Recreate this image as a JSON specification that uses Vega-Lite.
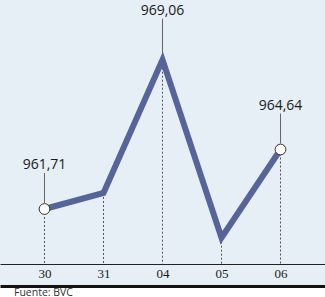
{
  "$schema": "https://vega.github.io/schema/vega-lite/v6.json",
  "width": 325,
  "height": 286,
  "autosize": {"type": "none"},
  "padding": {"left": 0, "right": 0, "top": 0, "bottom": 11},
  "background": "white",
  "config": {"view": {"fill": "#e6eef6", "stroke": null}},
  "title": {"text": "Fuente: BVC", "orient": "bottom", "anchor": "start", "fontSize": 10.5, "font": "Open Sans", "fontWeight": "normal", "color": "#333333", "offset": 2, "dx": 14},
  "datasets": {
    "serie": [
      {"dia": "30", "valor": 961.71, "label": "961,71"},
      {"dia": "31", "valor": 962.5, "label": ""},
      {"dia": "04", "valor": 969.06, "label": "969,06"},
      {"dia": "05", "valor": 960.3, "label": ""},
      {"dia": "06", "valor": 964.64, "label": "964,64"}
    ],
    "eje": [
      {"dia": "30", "nivel": 959},
      {"dia": "31", "nivel": 959},
      {"dia": "04", "nivel": 959},
      {"dia": "05", "nivel": 959},
      {"dia": "06", "nivel": 959}
    ]
  },
  "data": {"name": "serie"},
  "layer": [
    {
      "transform": [{"lookup": "dia", "from": {"data": {"name": "eje"}, "key": "dia", "fields": ["nivel"]}}],
      "mark": {"type": "rule", "color": "#555555", "strokeWidth": 1, "strokeDash": [2, 2]},
      "encoding": {
        "x": {"field": "dia", "type": "ordinal", "sort": null},
        "y": {"field": "valor", "type": "quantitative"},
        "y2": {"field": "nivel"}
      }
    },
    {
      "mark": {"type": "line", "color": "#56649a", "strokeWidth": 6, "strokeJoin": "miter"},
      "encoding": {
        "x": {"field": "dia", "type": "ordinal", "sort": null,
          "scale": {"type": "point", "padding": 0.754},
          "axis": {"orient": "bottom", "offset": 0, "domain": true, "domainColor": "#111111", "domainWidth": 3, "ticks": false, "title": null, "labelAngle": 0, "labelAlign": "center", "labelPadding": -19, "labelBaseline": "top", "labelFontSize": 13, "labelFont": "Liberation Sans Narrow", "labelColor": "#1a1a1a"}},
        "y": {"field": "valor", "type": "quantitative", "scale": {"domain": [957.92, 972.0], "nice": false, "zero": false},
          "axis": {"values": [959], "grid": true, "gridColor": "#222222", "gridWidth": 1, "domain": false, "ticks": false, "labels": false, "title": null}}
      }
    },
    {
      "transform": [{"filter": "datum.dia == '30' || datum.dia == '06'"}],
      "mark": {"type": "point", "shape": "circle", "filled": true, "size": 115, "fill": "white", "stroke": "#333333", "strokeWidth": 1, "opacity": 1},
      "encoding": {
        "x": {"field": "dia", "type": "ordinal", "sort": null},
        "y": {"field": "valor", "type": "quantitative"}
      }
    },
    {
      "transform": [{"filter": "datum.dia == '04'"}],
      "mark": {"type": "rule", "color": "#666666", "strokeWidth": 1, "yOffset": -3, "y2Offset": -41},
      "encoding": {
        "x": {"field": "dia", "type": "ordinal", "sort": null},
        "y": {"field": "valor", "type": "quantitative"},
        "y2": {"field": "valor"}
      }
    },
    {
      "transform": [{"filter": "datum.dia == '30' || datum.dia == '06'"}],
      "mark": {"type": "rule", "color": "#666666", "strokeWidth": 1, "yOffset": -6, "y2Offset": -36},
      "encoding": {
        "x": {"field": "dia", "type": "ordinal", "sort": null},
        "y": {"field": "valor", "type": "quantitative"},
        "y2": {"field": "valor"}
      }
    },
    {
      "transform": [{"filter": "datum.dia == '04'"}],
      "mark": {"type": "text", "font": "Open Sans", "fontSize": 14, "color": "#1a1a1a", "baseline": "middle", "dy": -49},
      "encoding": {
        "x": {"field": "dia", "type": "ordinal", "sort": null},
        "y": {"field": "valor", "type": "quantitative"},
        "text": {"field": "label"}
      }
    },
    {
      "transform": [{"filter": "datum.dia == '30' || datum.dia == '06'"}],
      "mark": {"type": "text", "font": "Open Sans", "fontSize": 14, "color": "#1a1a1a", "baseline": "middle", "dy": -44},
      "encoding": {
        "x": {"field": "dia", "type": "ordinal", "sort": null},
        "y": {"field": "valor", "type": "quantitative"},
        "text": {"field": "label"}
      }
    }
  ]
}
